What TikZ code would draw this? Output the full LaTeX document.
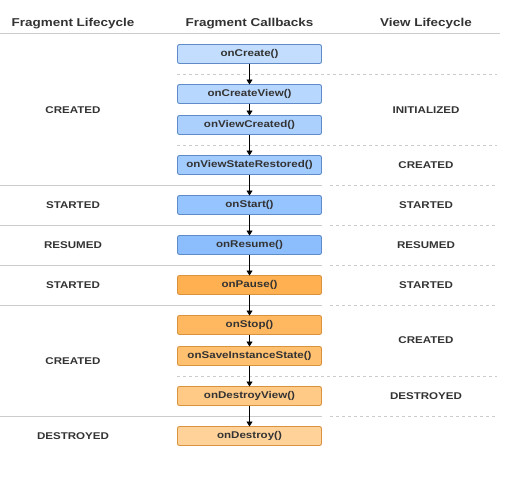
\documentclass[tikz,border=0pt]{standalone}
\usepackage{fontspec}
\setmainfont{Liberation Sans}[FakeStretch=1.18]
\usepackage{tikz}
\usetikzlibrary{positioning, arrows.meta}

\definecolor{ink}{HTML}{333333}
\definecolor{rule}{HTML}{CCCCCC}
\definecolor{blueedge}{HTML}{5F8CC8}
\definecolor{orangeedge}{HTML}{D9923E}

\begin{document}
\begin{tikzpicture}[x=1pt, y=-1pt, node distance=40pt]
  \tikzstyle{callback} = [rectangle, rounded corners=2pt, minimum width=144pt, minimum height=19pt, text centered, inner sep=0pt, outer sep=0pt, line width=0.9pt, text=ink, font=\fontsize{9.8}{11}\selectfont\bfseries]
  \tikzstyle{bluebox} = [callback, draw=blueedge]
  \tikzstyle{orangebox} = [callback, draw=orangeedge]
  \tikzstyle{state} = [text=ink, font=\fontsize{9.8}{11}\selectfont\bfseries]
  \tikzstyle{header} = [text=ink, font=\fontsize{11.4}{13}\selectfont\bfseries]
  \tikzstyle{solidline} = [draw=rule, line width=1pt]
  \tikzstyle{dotline} = [draw=rule, line width=1pt, dash pattern=on 2.5pt off 3.5pt]
  \tikzstyle{arrow} = [draw, line width=0.9pt, -{Triangle[length=5pt, width=6pt]}]

  \useasboundingbox (0,0) rectangle (518,487);

  % headers
  \node (hfrag) [header] at (73,24) {Fragment Lifecycle};
  \node (hcall) [header] at (249.5,24) {Fragment Callbacks};
  \node (hview) [header] at (426,24) {View Lifecycle};
  \draw [solidline] (0,34) -- (500,34);

  % separators
  \foreach \y in {185,225,265,305,416} {
    \draw [solidline] (0,\y) -- (322,\y);
    \draw [dotline] (330,\y) -- (497,\y);
  }
  \foreach \y in {74,145,376}
    \draw [dotline] (177,\y) -- (497,\y);

  % callbacks
  \node (create) [bluebox, fill={rgb,255:red,194;green,221;blue,254}] at (249.5,54) {onCreate()};
  \node (createview) [bluebox, fill={rgb,255:red,184;green,215;blue,254}, below=21pt of create] {onCreateView()};
  \node (viewcreated) [bluebox, fill={rgb,255:red,172;green,208;blue,254}, below=12pt of createview] {onViewCreated()};
  \node (restored) [bluebox, fill={rgb,255:red,162;green,203;blue,254}, below=21pt of viewcreated] {onViewStateRestored()};
  \node (start) [bluebox, fill={rgb,255:red,150;green,196;blue,254}, below=21pt of restored] {onStart()};
  \node (resume) [bluebox, fill={rgb,255:red,140;green,190;blue,254}, below=21pt of start] {onResume()};
  \node (pause) [orangebox, fill={rgb,255:red,255;green,176;blue,80}, below=21pt of resume] {onPause()};
  \node (stop) [orangebox, fill={rgb,255:red,255;green,184;blue,96}, below=21pt of pause] {onStop()};
  \node (save) [orangebox, fill={rgb,255:red,255;green,192;blue,112}, below=12pt of stop] {onSaveInstanceState()};
  \node (destroyview) [orangebox, fill={rgb,255:red,255;green,201;blue,134}, below=21pt of save] {onDestroyView()};
  \node (destroy) [orangebox, fill={rgb,255:red,255;green,210;blue,154}, below=21pt of destroyview] {onDestroy()};

  \draw [arrow] (create) -- (createview);
  \draw [arrow] (createview) -- (viewcreated);
  \draw [arrow] (viewcreated) -- (restored);
  \draw [arrow] (restored) -- (start);
  \draw [arrow] (start) -- (resume);
  \draw [arrow] (resume) -- (pause);
  \draw [arrow] (pause) -- (stop);
  \draw [arrow] (stop) -- (save);
  \draw [arrow] (save) -- (destroyview);
  \draw [arrow] (destroyview) -- (destroy);

  % fragment lifecycle
  \node (fcreated) [state] at (73,110) {CREATED};
  \node (fstarted) [state] at (73,205) {STARTED};
  \node (fresumed) [state] at (73,245) {RESUMED};
  \node (fpaused) [state] at (73,285) {STARTED};
  \node (fstopped) [state] at (73,361) {CREATED};
  \node (fdestroyed) [state] at (73,436) {DESTROYED};

  % view lifecycle
  \node (vinit) [state] at (426,110) {INITIALIZED};
  \node (vcreated) [state] at (426,165) {CREATED};
  \node (vstarted) [state] at (426,205) {STARTED};
  \node (vresumed) [state] at (426,245) {RESUMED};
  \node (vpaused) [state] at (426,285) {STARTED};
  \node (vstopped) [state] at (426,340) {CREATED};
  \node (vdestroyed) [state] at (426,396) {DESTROYED};
\end{tikzpicture}
\end{document}
